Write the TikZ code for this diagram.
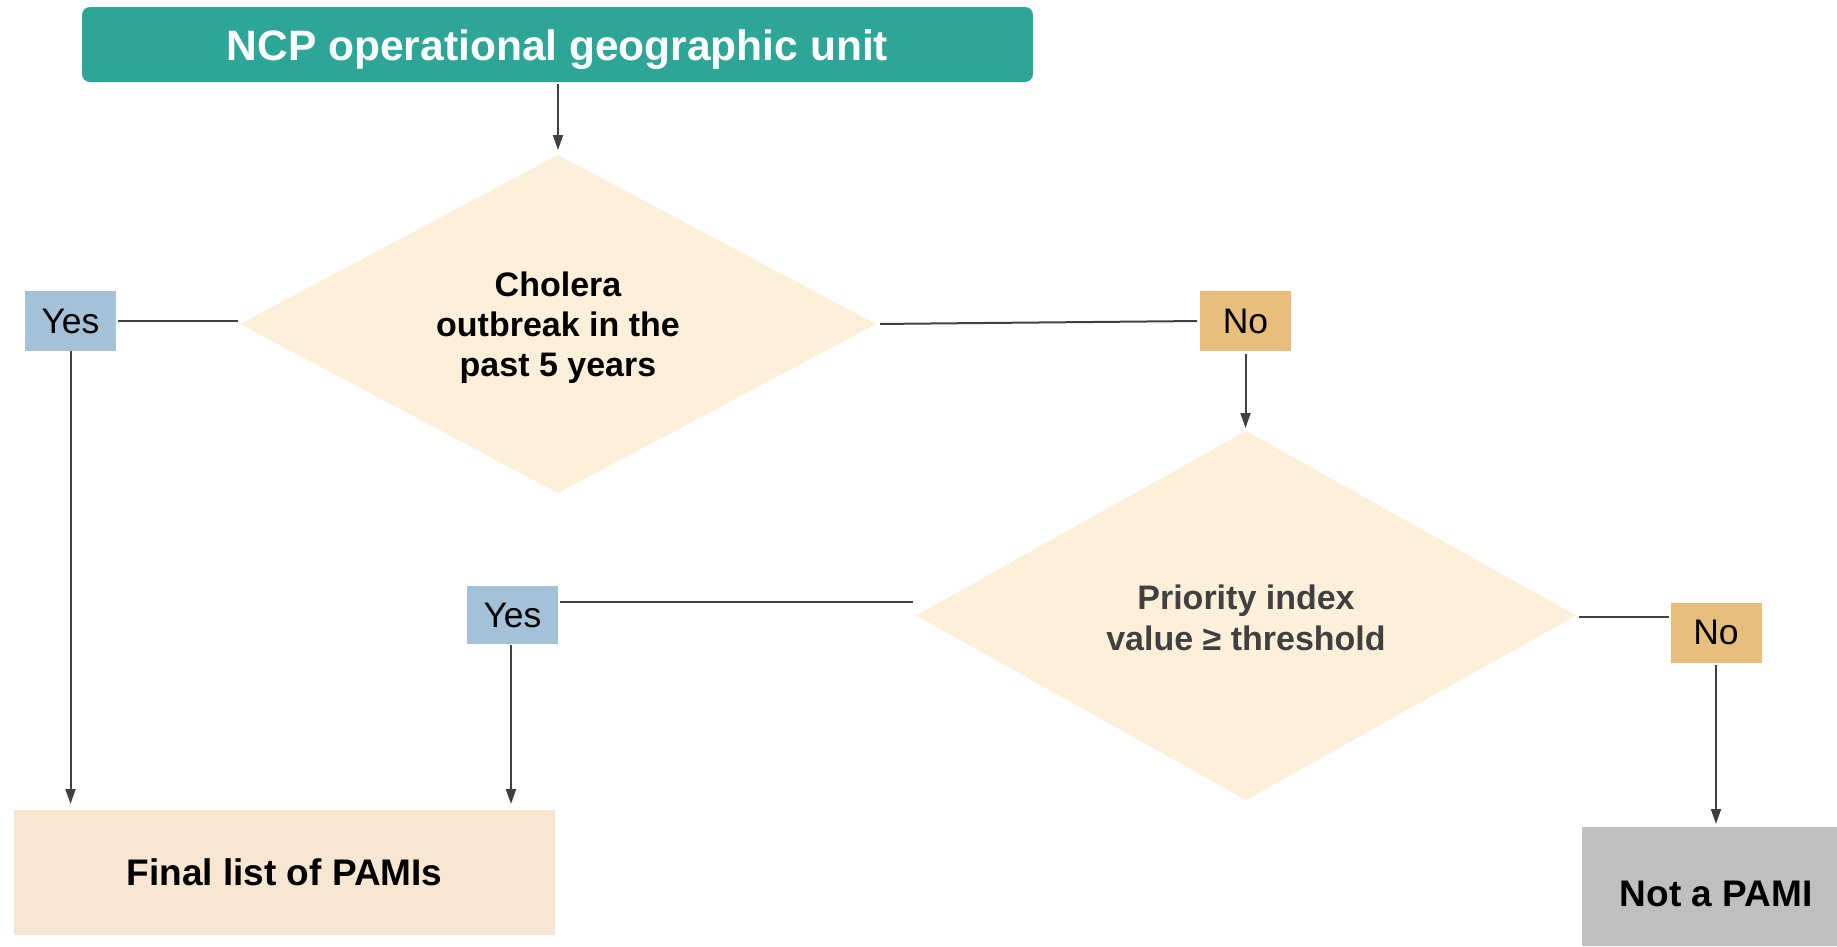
\documentclass[tikz,border=0pt]{standalone}
\usepackage{fontspec}
\setmainfont{Liberation Sans}
\usetikzlibrary{shapes.geometric,arrows.meta}
\definecolor{teal1}{HTML}{2DA597}
\definecolor{diafill}{HTML}{FDF0DB}
\definecolor{yesfill}{HTML}{A3C2D8}
\definecolor{nofill}{HTML}{E8BE7C}
\definecolor{finalfill}{HTML}{F7E7D2}
\definecolor{grayfill}{HTML}{BFBFBF}
\definecolor{linec}{HTML}{404040}
\definecolor{txtgray}{HTML}{404040}
\tikzset{
  titlebox/.style={fill=teal1, rounded corners=8pt, minimum width=951pt, minimum height=75pt, inner sep=0pt, outer sep=0pt, text=white, font=\fontsize{42.5}{48}\selectfont\bfseries},
  decision/.style={diamond, fill=diafill, inner sep=0pt, outer sep=0pt, align=center, font=\fontsize{34}{40}\selectfont\bfseries},
  yesbox/.style={fill=yesfill, minimum width=91pt, minimum height=60pt, inner sep=0pt, outer sep=0pt, font=\fontsize{35.5}{40}\selectfont},
  nobox/.style={fill=nofill, minimum width=91pt, minimum height=60pt, inner sep=0pt, outer sep=0pt, font=\fontsize{35.5}{40}\selectfont},
  endbox/.style={inner sep=0pt, outer sep=0pt, font=\fontsize{37}{42}\selectfont\bfseries},
  conn/.style={draw=linec, line width=2pt},
  arr/.style={conn, -{Triangle[length=15pt,width=10pt]}, fill=none},
}
\begin{document}
\begin{tikzpicture}[x=1pt,y=-1pt]
\useasboundingbox (0,0) rectangle (1837,946);
\node[titlebox] (top) at (557.5,44.5) {\rule{0pt}{40pt}NCP operational geographic unit};
\node[decision, aspect=1.88, minimum width=636pt, minimum height=338pt] (d1) at (558,324) {\rule{0pt}{32pt}Cholera\\outbreak in the\\past 5 years};
\node[decision, aspect=1.79, minimum width=660pt, minimum height=369pt, text=txtgray, font=\fontsize{34}{41}\selectfont\bfseries] (d2) at (1246,615.5) {\rule{0pt}{29pt}Priority index\\value ≥ threshold};
\node[yesbox] (y1) at (70.5,321) {Yes};
\node[nobox] (n1) at (1245.5,321) {No};
\node[yesbox, minimum height=58pt] (y2) at (512.5,615) {Yes};
\node[nobox] (n2) at (1716,632.5) {No};
\node[endbox, fill=finalfill, minimum width=541pt, minimum height=125pt] (fin) at (284.5,872.5) {Final list of PAMIs};
\node[endbox, fill=grayfill, minimum width=255pt, minimum height=119pt] (np) at (1709.5,886.5) {\hspace*{13pt}\rule{0pt}{41pt}Not a PAMI};
\coordinate (y2e) at (560,602);
\coordinate (d2l) at (913,602);
% connectors
\draw[arr, shorten <=2pt, shorten >=5pt] (top.south -| d1.north) -- (d1.north);
\draw[conn, shorten <=2pt, shorten >=2pt] (y1.east) -- (y1.east -| d1.west);
\draw[conn, shorten <=4pt, shorten >=3pt] (d1.east) -- (n1.west);
\draw[arr, shorten <=3pt, shorten >=3pt] (n1.south) -- (d2.north -| n1.south);
\draw[arr, shorten >=6pt] (y1.south) -- (y1.south |- fin.north);
\draw[conn] (y2e) -- (d2l);
\draw[conn, shorten <=3pt, shorten >=2pt] (d2.east) ++(0,1.5) -- (n2.west |- 0,617);
\draw[arr, shorten <=1pt, shorten >=6pt] (y2.south -| 511,0) -- (fin.north -| 511,0);
\draw[arr, shorten <=2pt, shorten >=3pt] (n2.south) -- (n2.south |- np.north);
\end{tikzpicture}
\end{document}
